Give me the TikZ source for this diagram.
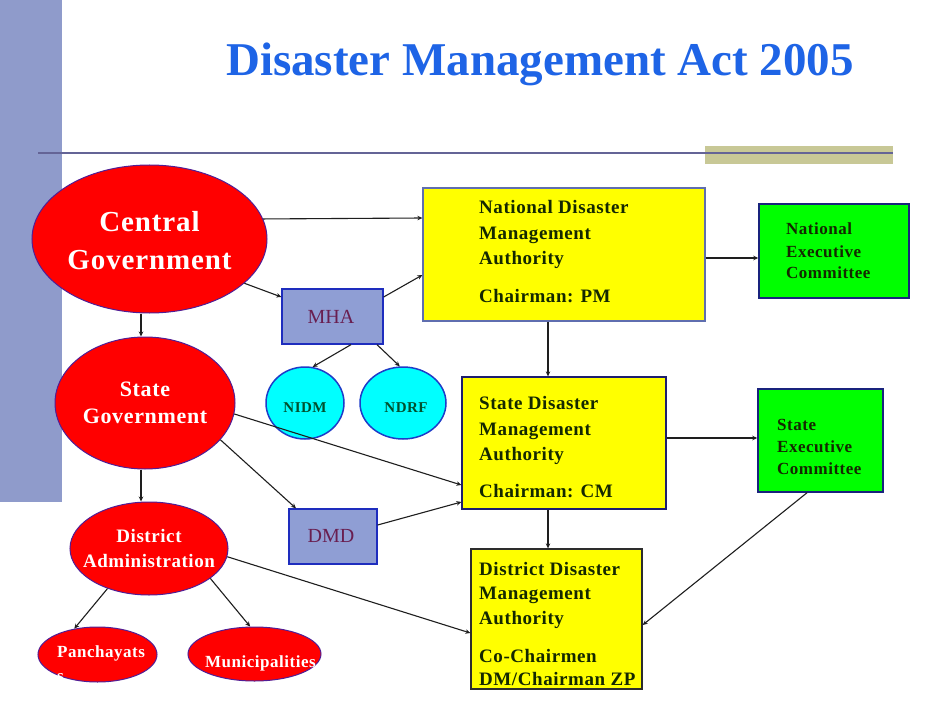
\documentclass[tikz,border=0pt]{standalone}
\usepackage{fontspec}
\setmainfont{Liberation Serif}
\newfontfamily\lblfont[LetterSpace=3]{Liberation Serif}
\usetikzlibrary{shapes.geometric,arrows.meta,calc}
\definecolor{sidebar}{RGB}{143,155,203}
\definecolor{khaki}{RGB}{200,200,150}
\definecolor{rule}{RGB}{100,100,150}
\definecolor{titleblue}{RGB}{30,100,230}
\definecolor{ellborder}{RGB}{80,30,150}
\definecolor{cyanborder}{RGB}{30,60,200}
\definecolor{boxblue}{RGB}{143,158,212}
\definecolor{boxborder}{RGB}{30,45,190}
\definecolor{maroon}{RGB}{105,30,80}
\definecolor{darktext}{RGB}{20,40,0}
\definecolor{tealtext}{RGB}{0,80,45}
\definecolor{greenfill}{RGB}{0,255,0}
\definecolor{greenborder}{RGB}{25,35,125}
\definecolor{arrowc}{RGB}{30,30,30}
\definecolor{redfill}{RGB}{255,0,0}
\definecolor{yelfill}{RGB}{255,255,0}
\definecolor{cyanfill}{RGB}{0,255,255}
\begin{document}
\begin{tikzpicture}[x=1pt,y=-1pt,
  ell/.style={ellipse,draw=ellborder,line width=1pt,fill=redfill,inner sep=0pt},
  cyanell/.style={ellipse,draw=cyanborder,line width=1.5pt,fill=cyanfill,inner sep=0pt},
  bluebox/.style={rectangle,draw=boxborder,line width=1.3pt,fill=boxblue,inner sep=0pt},
  yelbox/.style={rectangle,line width=1.3pt,fill=yelfill,inner sep=0pt},
  grnbox/.style={rectangle,draw=greenborder,line width=1.5pt,fill=greenfill,inner sep=0pt},
  arr/.style={draw=arrowc,line width=1.1pt,-{Stealth[length=5pt,width=4.5pt]}},
  wtxt/.style={text=white,inner sep=0pt,anchor=base},
  ytxt/.style={text=darktext,inner sep=0pt,anchor=base west,font={\lblfont\bfseries\fontsize{19}{22}\selectfont}},
  gtxt/.style={text=darktext,inner sep=0pt,anchor=base west,font={\lblfont\bfseries\fontsize{17}{20}\selectfont}},
  mtxt/.style={text=maroon,inner sep=0pt,anchor=base,font={\fontsize{20}{24}\selectfont}},
  ctxt/.style={text=tealtext,inner sep=0pt,anchor=base,font={\lblfont\bfseries\fontsize{15}{17}\selectfont}}
]
\useasboundingbox[fill=white] (0,0) rectangle (940,706);
% decorations
\fill[sidebar] (0,0) rectangle (62,502);
\fill[khaki] (705,146) rectangle (893,164);
\draw[rule,line width=2pt] (38,153) -- (893,153);
\node[text=titleblue,inner sep=0pt,anchor=base,font={\bfseries\fontsize{47}{56}\selectfont}] (title) at (540,76) {Disaster Management Act 2005};

% ellipses
\node[ell,minimum width=235pt,minimum height=148pt] (cg) at (149.5,239) {};
\node[ell,minimum width=180pt,minimum height=132pt] (sg) at (145,403) {};
\node[ell,minimum width=158pt,minimum height=93pt] (da) at (149,548.5) {};
\node[ell,minimum width=119pt,minimum height=55pt] (panch) at (97.5,654.5) {};
\node[ell,minimum width=133pt,minimum height=54pt] (muni) at (254.5,654) {};
\node[cyanell,minimum width=78pt,minimum height=72pt] (nidm) at (305,403) {};
\node[cyanell,minimum width=86pt,minimum height=72pt] (ndrf) at (403,403) {};

% boxes
\node[bluebox,minimum width=101pt,minimum height=55pt] (mha) at (332.5,316.5) {};
\node[bluebox,minimum width=88pt,minimum height=55pt] (dmd) at (333,536.5) {};
\node[yelbox,draw={rgb,255:red,95;green,110;blue,175},minimum width=282pt,minimum height=133pt] (ndma) at (564,254.5) {};
\node[yelbox,draw={rgb,255:red,30;green,30;blue,110},minimum width=204pt,minimum height=132pt] (sdma) at (564,443) {};
\node[yelbox,draw={rgb,255:red,45;green,45;blue,45},minimum width=171pt,minimum height=140pt] (ddma) at (556.5,619) {};
\node[grnbox,minimum width=150pt,minimum height=94pt] (nec) at (834,251) {};
\node[grnbox,minimum width=125pt,minimum height=103pt] (sec) at (820.5,440.5) {};

% texts in ellipses
\node[wtxt,font={\lblfont\bfseries\fontsize{29}{34}\selectfont}] (cgt1) at (149.5,231) {Central};
\node[wtxt,font={\lblfont\bfseries\fontsize{29}{34}\selectfont}] (cgt2) at (149.5,269) {Government};
\node[wtxt,font={\lblfont\bfseries\fontsize{22}{25}\selectfont}] (sgt1) at (145,396) {State};
\node[wtxt,font={\lblfont\bfseries\fontsize{22}{25}\selectfont}] (sgt2) at (145,423) {Government};
\node[wtxt,font={\lblfont\bfseries\fontsize{19}{22}\selectfont}] (dat1) at (149,542) {District};
\node[wtxt,font={\lblfont\bfseries\fontsize{19}{22}\selectfont}] (dat2) at (149,567) {Administration};
\node[wtxt,anchor=base west,font={\lblfont\bfseries\fontsize{17}{20}\selectfont}] (pt1) at (57,657) {Panchayats};
\node[wtxt,anchor=base west,font={\lblfont\bfseries\fontsize{17}{20}\selectfont}] (pt2) at (57,681) {s};
\node[wtxt,anchor=base west,font={\lblfont\bfseries\fontsize{17}{20}\selectfont}] (mt1) at (205,667) {Municipalities};
\node[ctxt] (nidmt) at (305,412) {NIDM};
\node[ctxt] (ndrft) at (406,412) {NDRF};
\node[mtxt] (mhat) at (331,323) {MHA};
\node[mtxt] (dmdt) at (331,542) {DMD};

% texts in boxes
\node[ytxt] (ndt1) at (479,213) {National Disaster};
\node[ytxt] (ndt2) at (479,239) {Management};
\node[ytxt] (ndt3) at (479,264) {Authority};
\node[ytxt] (ndt4) at (479,302) {Chairman: PM};
\node[ytxt] (sdt1) at (479,409) {State Disaster};
\node[ytxt] (sdt2) at (479,435) {Management};
\node[ytxt] (sdt3) at (479,460) {Authority};
\node[ytxt] (sdt4) at (479,497) {Chairman: CM};
\node[ytxt] (ddt1) at (479,575) {District Disaster};
\node[ytxt] (ddt2) at (479,599) {Management};
\node[ytxt] (ddt3) at (479,624) {Authority};
\node[ytxt] (ddt4) at (479,662) {Co-Chairmen};
\node[ytxt] (ddt5) at (479,685) {DM/Chairman ZP};
\node[gtxt] (net1) at (786,234) {National};
\node[gtxt] (net2) at (786,257) {Executive};
\node[gtxt] (net3) at (786,278) {Committee};
\node[gtxt] (set1) at (777,430) {State};
\node[gtxt] (set2) at (777,452) {Executive};
\node[gtxt] (set3) at (777,474) {Committee};

% connectors
\draw[arr] (cg.10.5) -- ([yshift=36.5pt]ndma.west);
\draw[arr] (cg.-25.2) -- ([yshift=19.5pt]mha.west);
\draw[arr] ([yshift=19.5pt]mha.east) -- ([yshift=-20.5pt]ndma.west);
\coordinate (c1) at ($(cg.south)+(-8.5,0)$);
\draw[arr] (c1) -- (c1 |- sg.north);
\coordinate (c2) at ($(sg.south)+(-4,0)$);
\draw[arr] (c2) -- (c2 |- da.north);
\draw[arr] ([xshift=18.5pt]mha.south) -- (nidm.78);
\draw[arr] ([xshift=44.5pt]mha.south) -- (ndrf.95);
\draw[arr] (sg.-7.7) -- ([yshift=-42pt]sdma.west);
\draw[arr] (sg.-26.3) -- ([xshift=-37pt]dmd.north);
\draw[arr] ([yshift=11.5pt]dmd.east) -- ([yshift=-59pt]sdma.west);
\draw[arr] (da.-6) -- ([yshift=-14pt]ddma.west);
\draw[arr] (da.224.7) -- (panch.132.8);
\draw[arr] (da.-26.9) -- (muni.99.5);
\coordinate (c3) at ($(ndma.east)+(0,3.5)$);
\draw[arr] (c3) -- (c3 -| nec.west);
\coordinate (c4) at ($(ndma.south)+(-16,0)$);
\draw[arr] (c4) -- (c4 |- sdma.north);
\coordinate (c5) at ($(sdma.east)+(0,-5)$);
\draw[arr] (c5) -- (c5 -| sec.west);
\coordinate (c6) at ($(sdma.south)+(-16,0)$);
\draw[arr] (c6) -- (c6 |- ddma.north);
\draw[arr] ([xshift=-13.5pt]sec.south) -- ([yshift=-6pt]ddma.east);
\end{tikzpicture}
\end{document}
